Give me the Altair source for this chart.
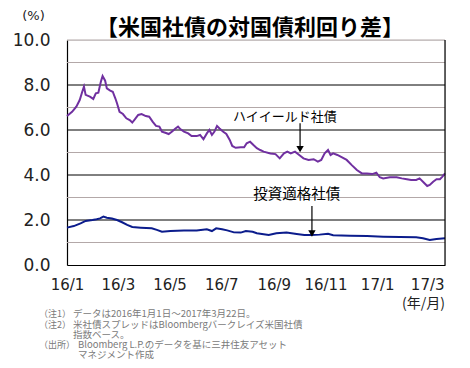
import altair as alt
import pandas as pd

hy_dates = [
    "2016-01-01", "2016-01-07", "2016-01-12", "2016-01-16", "2016-01-19", "2016-01-21", "2016-01-23",
    "2016-01-28", "2016-02-01", "2016-02-04", "2016-02-07", "2016-02-10", "2016-02-12", "2016-02-15",
    "2016-02-17", "2016-02-21", "2016-02-24", "2016-02-27", "2016-02-29", "2016-03-03", "2016-03-07",
    "2016-03-11", "2016-03-15", "2016-03-18", "2016-03-21", "2016-03-25", "2016-03-29", "2016-04-03",
    "2016-04-07", "2016-04-11", "2016-04-15", "2016-04-19", "2016-04-22", "2016-04-26", "2016-04-30",
    "2016-05-04", "2016-05-08", "2016-05-11", "2016-05-14", "2016-05-18", "2016-05-23", "2016-05-27",
    "2016-06-02", "2016-06-06", "2016-06-10", "2016-06-14", "2016-06-17", "2016-06-20", "2016-06-23",
    "2016-06-26", "2016-06-29", "2016-07-03", "2016-07-07", "2016-07-11", "2016-07-14", "2016-07-18",
    "2016-07-24", "2016-07-28", "2016-07-31", "2016-08-04", "2016-08-08", "2016-08-12", "2016-08-16",
    "2016-08-20", "2016-08-28", "2016-09-03", "2016-09-08", "2016-09-13", "2016-09-17", "2016-09-21",
    "2016-09-26", "2016-10-01", "2016-10-06", "2016-10-12", "2016-10-18", "2016-10-23", "2016-10-27",
    "2016-10-31", "2016-11-04", "2016-11-07", "2016-11-10", "2016-11-15", "2016-11-20", "2016-11-26",
    "2016-12-02", "2016-12-08", "2016-12-14", "2016-12-20", "2016-12-26", "2016-12-31", "2017-01-04",
    "2017-01-08", "2017-01-16", "2017-01-24", "2017-01-30", "2017-02-05", "2017-02-10", "2017-02-16",
    "2017-02-20", "2017-02-24", "2017-03-01", "2017-03-04", "2017-03-08", "2017-03-12", "2017-03-16",
    "2017-03-19", "2017-03-22",
]
hy_values = [
    6.62, 6.81, 7.04, 7.33, 7.70, 7.93, 7.56,
    7.48, 7.38, 7.63, 7.66, 8.15, 8.40, 8.19,
    7.85, 7.75, 7.70, 7.41, 7.19, 6.81, 6.71,
    6.52, 6.44, 6.33, 6.47, 6.67, 6.71, 6.62,
    6.59, 6.37, 6.18, 6.15, 5.93, 5.88, 5.82,
    5.93, 6.07, 6.15, 6.03, 5.93, 5.85, 5.73,
    5.73, 5.78, 5.59, 5.85, 6.00, 5.78, 5.93,
    6.18, 6.07, 5.93, 5.82, 5.56, 5.29, 5.21,
    5.23, 5.23, 5.41, 5.48, 5.33, 5.19, 5.11,
    5.04, 4.96, 4.93, 4.74, 4.96, 5.04, 4.96,
    5.04, 4.89, 4.74, 4.67, 4.70, 4.59, 4.67,
    4.96, 5.11, 4.89, 4.96, 4.89, 4.79, 4.67,
    4.44, 4.22, 4.07, 4.07, 4.04, 4.10, 3.90,
    3.85, 3.90, 3.90, 3.85, 3.81, 3.78, 3.78,
    3.85, 3.70, 3.51, 3.56, 3.70, 3.81, 3.81,
    3.93, 4.07,
]

ig_dates = [
    "2016-01-01", "2016-01-09", "2016-01-17", "2016-01-23", "2016-01-31", "2016-02-05", "2016-02-09",
    "2016-02-13", "2016-02-17", "2016-02-23", "2016-02-29", "2016-03-06", "2016-03-12", "2016-03-18",
    "2016-03-28", "2016-04-10", "2016-04-16", "2016-04-22", "2016-05-02", "2016-05-18", "2016-06-02",
    "2016-06-14", "2016-06-20", "2016-06-25", "2016-07-02", "2016-07-08", "2016-07-16", "2016-07-24",
    "2016-07-30", "2016-08-07", "2016-08-12", "2016-08-26", "2016-09-04", "2016-09-16", "2016-09-28",
    "2016-10-07", "2016-10-15", "2016-10-25", "2016-11-04", "2016-11-10", "2016-11-30", "2016-12-20",
    "2017-01-08", "2017-01-28", "2017-02-16", "2017-02-24", "2017-03-04", "2017-03-12", "2017-03-22",
]
ig_values = [
    1.66, 1.73, 1.85, 1.96, 2.00, 2.03, 2.07,
    2.15, 2.10, 2.07, 2.00, 1.90, 1.78, 1.69,
    1.66, 1.63, 1.56, 1.48, 1.51, 1.53, 1.53,
    1.59, 1.51, 1.63, 1.59, 1.54, 1.45, 1.44,
    1.51, 1.48, 1.41, 1.33, 1.41, 1.44, 1.38,
    1.33, 1.33, 1.35, 1.39, 1.32, 1.30, 1.29,
    1.26, 1.24, 1.23, 1.19, 1.11, 1.16, 1.19,
]

grid_levels = [1, 2, 3, 4, 5, 6, 7, 8, 9, 10]
y_ticks = [0, 2, 4, 6, 8, 10]
x_ticks = [(2016, 1), (2016, 3), (2016, 5), (2016, 7), (2016, 9), (2016, 11), (2017, 1), (2017, 3)]

notes = [
    ("（注1）", "データは2016年1月1日～2017年3月22日。"),
    ("（注2）", "米社債スプレッドはBloombergバークレイズ米国社債"),
    ("", "指数ベース。"),
    ("（出所）", "Bloomberg L.P.のデータを基に三井住友アセット"),
    ("", "マネジメント作成"),
]
note_y = [274, 284.5, 294.5, 305, 315]
note_x = [6, 6, 6, 11, 11]

JP = "Noto Sans CJK JP"
W, H = 378, 225

df = pd.concat([
    pd.DataFrame({"date": hy_dates, "value": hy_values, "series": "ハイイールド社債"}),
    pd.DataFrame({"date": ig_dates, "value": ig_values, "series": "投資適格社債"}),
])
grid_df = pd.DataFrame({"level": grid_levels})
one = pd.DataFrame({"k": [0]})


def dt(y, m, d):
    return alt.DateTime(year=y, month=m, date=d, utc=True)


x_scale = alt.Scale(type="utc", domain=[dt(2016, 1, 1), dt(2017, 3, 22)])
y_scale = alt.Scale(domain=[0, 10], nice=False)

x_enc = alt.X(
    "date:T", scale=x_scale,
    axis=alt.Axis(
        values=[dt(y, m, 1) for y, m in x_ticks],
        format="%y/%-m", labelFont="DejaVu Sans", labelFontSize=15, labelColor="#222",
        labelPadding=12, ticks=False, grid=False, domainColor="black", domainWidth=1.2,
        title="(年/月)", titleFont=JP, titleFontSize=14, titleFontWeight="normal",
        titleColor="#222", titleX=356, titleY=38, titleAlign="center", titleBaseline="middle",
        labelFlush=False,
    ),
)
y_enc = alt.Y(
    "value:Q", scale=y_scale,
    axis=alt.Axis(
        values=y_ticks, format=".1f", labelFont="DejaVu Sans", labelFontSize=17, labelColor="#222",
        labelPadding=17, ticks=False, grid=False, domainColor="black", domainWidth=1.2,
        title="(%)", titleFont="DejaVu Sans", titleFontSize=13, titleFontWeight="normal",
        titleColor="#222", titleAngle=0, titleX=-34, titleY=-25, titleAlign="center",
        titleBaseline="middle",
    ),
)

grid = alt.Chart(grid_df).mark_rule(strokeWidth=1).encode(
    y=alt.Y("level:Q", scale=y_scale),
    color=alt.condition("datum.level % 2 === 0 && datum.level < 10", alt.value("black"), alt.value("#b3a8a8")),
)

right_border = alt.Chart(one).mark_rule(color="black", strokeWidth=1.2).encode(
    x=alt.datum(dt(2017, 3, 22)), y=alt.datum(0), y2=alt.datum(10),
)

lines = alt.Chart(df).mark_line(strokeWidth=2).encode(
    x=x_enc, y=y_enc,
    color=alt.Color("series:N", scale=alt.Scale(domain=["ハイイールド社債", "投資適格社債"],
                                                 range=["#7030A0", "#0B1C8C"]), legend=None),
)

hy_label = alt.Chart(one).mark_text(font=JP, fontSize=13, color="black", baseline="middle").encode(
    x=alt.datum(dt(2016, 9, 14)), y=alt.datum(6.6), text=alt.value("ハイイールド社債"))
hy_shaft = alt.Chart(one).mark_rule(color="black", strokeWidth=1.2).encode(
    x=alt.datum(dt(2016, 10, 2)), y=alt.datum(6.3), y2=alt.datum(5.2))
hy_head = alt.Chart(one).mark_point(shape="triangle-down", filled=True, color="black", size=55, opacity=1).encode(
    x=alt.datum(dt(2016, 10, 2)), y=alt.datum(5.15))

ig_label = alt.Chart(one).mark_text(font=JP, fontSize=14.5, color="black", baseline="middle").encode(
    x=alt.datum(dt(2016, 9, 28)), y=alt.datum(3.1), text=alt.value("投資適格社債"))
ig_shaft = alt.Chart(one).mark_rule(color="black", strokeWidth=1.2).encode(
    x=alt.datum(dt(2016, 10, 16)), y=alt.datum(2.62), y2=alt.datum(1.45))
ig_head = alt.Chart(one).mark_point(shape="triangle-down", filled=True, color="black", size=55, opacity=1).encode(
    x=alt.datum(dt(2016, 10, 16)), y=alt.datum(1.40))

note_layers = []
for (lab, txt), ny, nx in zip(notes, note_y, note_x):
    if lab:
        note_layers.append(alt.Chart(one).mark_text(font=JP, fontSize=9, color="#7a7a7a", align="left", baseline="middle").encode(
            x=alt.value(-28), y=alt.value(ny), text=alt.value(lab)))
    note_layers.append(alt.Chart(one).mark_text(font=JP, fontSize=9.5, color="#7a7a7a", align="left", baseline="middle").encode(
        x=alt.value(nx), y=alt.value(ny), text=alt.value(txt)))

chart = alt.layer(
    grid, lines, right_border, hy_label, hy_shaft, hy_head, ig_label, ig_shaft, ig_head, *note_layers
).properties(
    width=W, height=H,
    title=alt.TitleParams(text="【米国社債の対国債利回り差】", font=JP, fontSize=22, fontWeight="bold",
                          color="black", anchor="middle", offset=-31, dx=-6),
    autosize=alt.AutoSizeParams(type="none"),
    padding={"left": 59, "top": 32, "right": 17, "bottom": 95},
).configure_view(stroke=None).configure(background="white")

chart.save("out.html", embed_options={"renderer": "svg", "actions": False})
